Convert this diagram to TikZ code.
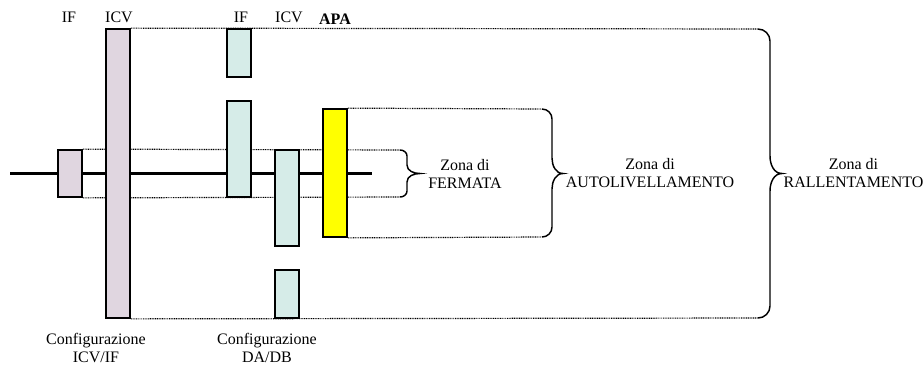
\documentclass[tikz,border=0pt]{standalone}
\usepackage{fontspec}
\setmainfont{Liberation Serif}
\usetikzlibrary{positioning,backgrounds}
\definecolor{lilla}{RGB}{224,214,224}
\definecolor{acqua}{RGB}{214,236,232}
\definecolor{giallo}{RGB}{255,255,0}

\begin{document}
\begin{tikzpicture}[x=.75pt,y=-.75pt,
  blocco/.style={draw,line width=1.3pt,inner sep=0pt,minimum width=18pt},
  binario/.style={line width=2.8pt},
  traccia/.style={dash pattern=on .7pt off .6pt,line width=.9pt},
  graffa/.style={line width=1.1pt},
  testo/.style={font=\fontsize{12}{13.5}\selectfont,inner sep=0pt,align=center}]
\useasboundingbox (0,0) rectangle (924,365);
% blocchi
\node[blocco,fill=lilla,minimum height=35.25pt] (if1) at (70,173.5) {};
\node[blocco,fill=lilla,minimum height=216.75pt] (icv1) at (118,173.5) {};
\node[blocco,fill=acqua,minimum height=36pt] (if2a) at (239,53) {};
\node[blocco,fill=acqua,minimum height=72pt] (if2b) at (239,149) {};
\node[blocco,fill=acqua,minimum height=72pt] (icv2a) at (287,198) {};
\node[blocco,fill=acqua,minimum height=36pt] (icv2b) at (287,294) {};
\node[blocco,fill=giallo,minimum height=96pt] (apa) at (335,173) {};
% etichette in alto
\node[testo,anchor=base] (lif1) at (69,22.5) {IF};
\node[testo,anchor=base] (licv1) at (119,22.5) {ICV};
\node[testo,anchor=base] (lif2) at (241,22.5) {IF};
\node[testo,anchor=base] (licv2) at (289,22.5) {ICV};
\node[testo,anchor=base] (lapa) at (335,24) {\textbf{APA}};
% graffe
\coordinate (fT) at (400,150); \coordinate (fP) at (420,173.5); \coordinate (fB) at (400,197);
\coordinate (aT) at (542,109); \coordinate (aP) at (563,173.5); \coordinate (aB) at (542,237);
\coordinate (gT) at (758,29); \coordinate (gP) at (782,173.5); \coordinate (gB) at (758,318);
\draw[graffa] (fT) to[out=0,in=90] (407,156) -- (407,165) to[out=-90,in=180] (fP)
  to[out=180,in=90] (407,182) -- (407,191) to[out=-90,in=0] (fB);
\draw[graffa] (aT) to[out=0,in=90] (552,119) -- (552,158) to[out=-90,in=180] (aP)
  to[out=180,in=90] (552,189) -- (552,227) to[out=-90,in=0] (aB);
\draw[graffa] (gT) to[out=0,in=90] (770,41) -- (770,156) to[out=-90,in=180] (gP)
  to[out=180,in=90] (770,191) -- (770,306) to[out=-90,in=0] (gB);
% zone
\node[testo,right=6pt of fP] (zferm) {Zona di\\FERMATA};
\node[testo,right=2pt of aP] (zauto) {Zona di\\AUTOLIVELLAMENTO};
\node[testo,right=1pt of gP] (zrall) {Zona di\\RALLENTAMENTO};
% configurazioni
\node[testo,anchor=north] (cfg1) at (96,333) {Configurazione\\ICV/IF};
\node[testo,anchor=north] (cfg2) at (267,333) {Configurazione\\DA/DB};
% binario e linee tratteggiate dietro i blocchi
\begin{scope}[on background layer]
\coordinate (binL) at (10,173.5); \coordinate (binR) at (372,173.5);
\draw[binario] (binL) -- (binR);
\draw[traccia] (if1.north east) -- (fT);
\draw[traccia] (if1.south east) -- (fB);
\draw[traccia] (apa.north east) -- (aT);
\draw[traccia] (apa.south east) -- (aB);
\draw[traccia] (icv1.north east) -- (gT);
\draw[traccia] (icv1.south east) -- (gB);
\end{scope}
\end{tikzpicture}
\end{document}
